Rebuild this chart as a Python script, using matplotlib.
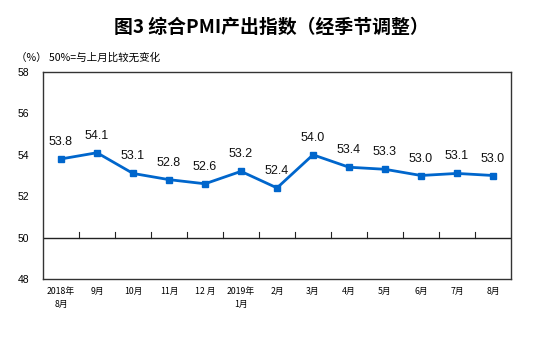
import matplotlib
matplotlib.use("Agg")
import matplotlib.pyplot as plt

plt.rcParams['font.family'] = ['Liberation Sans', 'Noto Sans CJK SC', 'DejaVu Sans']

months = ["2018年\n8月", "9月", "10月", "11月", "12 月", "2019年\n1月", "2月",
          "3月", "4月", "5月", "6月", "7月", "8月"]
pmi = [53.8, 54.1, 53.1, 52.8, 52.6, 53.2, 52.4, 54.0, 53.4, 53.3, 53.0, 53.1, 53.0]
y_ticks = [48, 50, 52, 54, 56, 58]

line_color = "#0066CC"

fig = plt.figure(figsize=(5.54, 3.43), dpi=100)
ax = fig.add_axes([43 / 554, 1 - 279 / 343, (511 - 43) / 554, (279 - 72) / 343])

x = list(range(len(pmi)))
ax.plot(x, pmi, color=line_color, lw=2.0, marker="s", markersize=5,
        markerfacecolor=line_color, markeredgecolor=line_color, zorder=3)

for xi, v in zip(x, pmi):
    ax.annotate(f"{v:.1f}", (xi, v), xytext=(0, 11), textcoords="offset pixels",
                ha="center", va="bottom", fontsize=9, color="#111111",
                family=['Liberation Sans'])

# 50 reference line with small upward ticks between months
ax.axhline(50, color="#222222", lw=1.0, zorder=2)
for b in range(len(pmi) - 1):
    ax.plot([b + 0.5, b + 0.5], [50, 50.25], color="#222222", lw=0.8, zorder=2)

ax.set_xlim(-0.5, len(pmi) - 0.5)
ax.set_ylim(48, 58)
ax.set_yticks(y_ticks)
ax.set_yticklabels([str(t) for t in y_ticks], fontsize=7.5)
ax.set_xticks(x)
ax.set_xticklabels(months, fontsize=6.3, family=['Noto Sans CJK SC', 'DejaVu Sans'],
                   linespacing=1.5, va="top")
ax.tick_params(axis="x", length=0, pad=6)
ax.tick_params(axis="y", length=0, pad=10)
for s in ax.spines.values():
    s.set_color("#333333")
    s.set_linewidth(1.0)

fig.text(271.5 / 554, 1 - 27 / 343, "图3 综合PMI产出指数（经季节调整）", ha="center", va="center",
         fontsize=13.6, fontweight="bold", family=['Noto Sans CJK SC', 'DejaVu Sans'])
fig.text(16 / 554, 1 - 58 / 343, "（%） 50%=与上月比较无变化", ha="left", va="center",
         fontsize=7.6, family=['Noto Sans CJK SC', 'DejaVu Sans'])

fig.savefig("out.png", dpi=100)
